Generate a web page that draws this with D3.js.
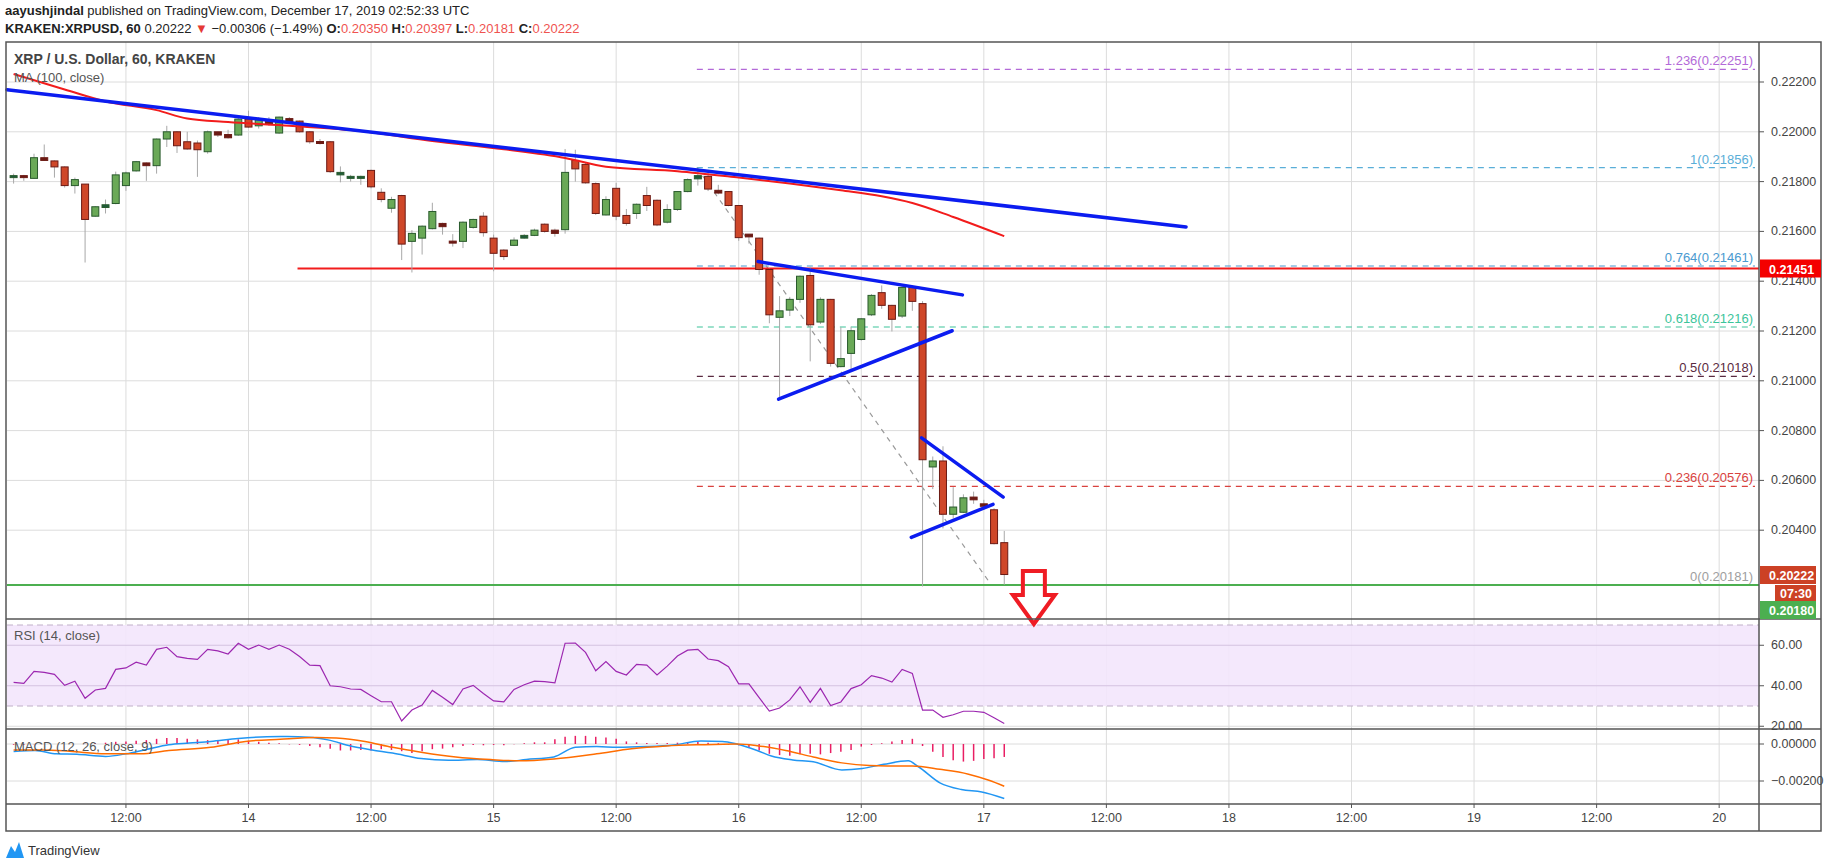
<!DOCTYPE html>
<html><head><meta charset="utf-8">
<script src="https://cdn.jsdelivr.net/npm/d3@7"></script>
<style>
body{margin:0;background:#fff;font-family:"Liberation Sans",Arial,sans-serif;}
svg text{font-family:"Liberation Sans",Arial,sans-serif;}
</style></head>
<body><svg id="chart" width="1828" height="868"></svg>
<script>
// hourly candles, 13 Dec 01:00 UTC .. 17 Dec 02:00 UTC
const opens  = [.21819,.21824,.21813,.21896,.21883,.21859,.21784,.21790,.21661,.21696,.21712,.21784,.21843,.21875,.21864,.21971,.22000,.21960,.21955,.21920,.22000,.21989,.21987,.22051,.22024,.22043,.21995,.22053,.22043,.22000,.21961,.21960,.21827,.21816,.21813,.21845,.21757,.21693,.21744,.21560,.21573,.21611,.21632,.21561,.21560,.21616,.21661,.21573,.21525,.21544,.21573,.21584,.21629,.21605,
  .21607,.21885,.21869,.21792,.21666,.21773,.21664,.21672,.21744,.21725,.21637,.21688,.21760,.21811,.21821,.21765,.21760,.21704,.21589,.21573,.21447,.21255,.21284,.21327,.21423,.21236,.21327,.21057,.21110,.21166,.21265,.21354,.21303,.21260,.21375,
  .21310,.20654,.20678,.20464,.20472,.20533,.20506,.20482,.20350];
const highs  = [.21832,.21827,.21912,.21949,.21885,.21861,.21816,.21790,.21701,.21728,.21840,.21840,.21883,.21877,.21973,.22024,.22003,.22000,.21965,.22005,.22000,.22008,.22064,.22085,.22059,.22059,.22061,.22059,.22045,.22003,.21971,.21963,.21861,.21827,.21824,.21848,.21773,.21739,.21747,.21605,.21624,.21715,.21635,.21589,.21640,.21651,.21677,.21587,.21528,.21576,.21589,.21611,.21632,.21611,
  .21931,.21928,.21877,.21797,.21741,.21795,.21690,.21712,.21779,.21728,.21709,.21762,.21813,.21856,.21843,.21787,.21762,.21706,.21589,.21575,.21450,.21340,.21337,.21423,.21458,.21335,.21329,.21215,.21217,.21252,.21348,.21383,.21305,.21383,.21383,
  .21320,.20696,.20737,.20573,.20544,.20555,.20522,.20488,.20397];
const lows   = [.21792,.21803,.21811,.21883,.21816,.21776,.21752,.21475,.21659,.21672,.21709,.21763,.21840,.21803,.21832,.21939,.21915,.21928,.21819,.21912,.21979,.21973,.21984,.22016,.22013,.22024,.21992,.22032,.21997,.21952,.21949,.21835,.21797,.21800,.21787,.21773,.21717,.21675,.21485,.21435,.21507,.21608,.21587,.21539,.21533,.21611,.21579,.21440,.21485,.21541,.21571,.21581,.21595,.21579,
  .21591,.21800,.21792,.21666,.21664,.21645,.21623,.21650,.21682,.21621,.21632,.21682,.21757,.21784,.21762,.21749,.21701,.21562,.21551,.21426,.21231,.20926,.21260,.21313,.21078,.21228,.21057,.21054,.21043,.21161,.21260,.21289,.21198,.21252,.21281,
  .20174,.20565,.20407,.20447,.20469,.20506,.20482,.20343,.20181];
const closes = [.21824,.21816,.21896,.21885,.21859,.21784,.21808,.21648,.21699,.21707,.21827,.21835,.21880,.21864,.21971,.22000,.21944,.21931,.21928,.22000,.21987,.21976,.22051,.22019,.22048,.22032,.22059,.22037,.22000,.21960,.21960,.21840,.21837,.21821,.21821,.21779,.21728,.21728,.21549,.21592,.21621,.21680,.21619,.21559,.21637,.21648,.21595,.21512,.21499,.21565,.21584,.21605,.21600,.21592,
  .21837,.21851,.21795,.21672,.21728,.21661,.21632,.21709,.21704,.21626,.21688,.21760,.21808,.21824,.21770,.21754,.21704,.21575,.21578,.21447,.21265,.21281,.21327,.21420,.21225,.21327,.21070,.21089,.21201,.21249,.21343,.21303,.21247,.21375,.21319,
  .20683,.20678,.20464,.20493,.20530,.20522,.20496,.20346,.20222];

// MA(100) read at candle positions
const maIdx = [0,5,9,14,17,21,27,34,41,48,54,58,65,71,76,81,85,88,92,97];
const maVal = [.22232,.22170,.22122,.22087,.22053,.22039,.22024,.22003,.21963,.21930,.21895,.21860,.21842,.21816,.21792,.21765,.21741,.21714,.21658,.21581];

// drawn lines: [idx0, price0, idx1, price1]
const blueLines = [[-0.65,.22169,114.8,.21618],[72.9,.21479,92.9,.21345],[74.9,.20926,91.9,.21201],[88.9,.20771,96.9,.20533],[87.9,.20371,95.9,.20504]];
const fibDiag = [66.9,.21856,95.7,.20182];
const fibLevels = ['1.236','1','0.764','0.618','0.5','0.236','0'];
const fibPrices = [.22251,.21856,.21461,.21216,.21018,.20576,.20181];
const fibColors = ['#b36ad8','#5aaed8','#4a9ad0','#3cc49a','#5a2a40','#d9423e','#9e9e9e'];
const supportPrice = .21451, supportStart = 27.8;
const lastLow = .20180;

const rsi = [41.7,41.2,47.1,46.6,45.6,40.2,42.2,33.8,37.9,38.7,48.1,48.8,51.6,50.2,58.0,59.0,54.4,53.5,53.0,58.0,
  57.2,55.7,61.0,58.0,60.1,58.0,60.1,58.0,54.4,50.2,49.9,40.0,39.5,38.4,38.2,35.1,32.1,32.1,22.6,28.0,
  30.5,37.7,34.3,30.7,38.4,40.2,36.2,32.5,32.0,38.2,40.5,42.3,42.0,41.4,61.0,61.1,56.5,47.4,51.9,47.1,
  45.3,50.6,50.2,45.3,49.7,54.7,57.6,58.0,53.2,52.4,49.4,40.9,40.9,34.1,27.5,29.0,33.0,39.5,31.8,38.7,
  30.2,32.0,38.6,40.5,45.0,43.8,41.8,48.1,46.1,28.0,28.0,24.4,25.7,27.4,27.4,26.9,24.2,21.4];

const macdIdx = [0,2.1,4.2,6.2,9,11,13.1,15.2,17.2,19.3,22,24.8,26.8,28.9,30.9,33,35.1,37.1,39.9,42.6,45.4,48.1,50.2,52.9,55,57.1,59.1,61.9,64.6,67.3,69.4,70.8,72.8,74.2,76.3,78.3,81.1,83.1,85.2,87.6,88.6,90.7,92.8,94.8,97];
const macdVal = [-.0004,-.00035,-.00053,-.00056,-.00067,-.00053,-.00028,-.00004,.00005,.00014,.0003,.00039,.0004,.00037,.00021,-.00011,-.00032,-.00049,-.00079,-.00088,-.00084,-.00095,-.00084,-.0007,-.00018,-.00014,-.00018,-.00014,-.00005,.00016,.00014,0,-.00035,-.00065,-.00086,-.00096,-.0014,-.00132,-.0011,-.00091,-.00123,-.0021,-.00246,-.0026,-.00295];
const sigIdx = [0,2.8,5.5,9,12.4,15.2,19.3,22.7,26.1,29.6,31.6,34.4,37.1,39.9,43.3,46.7,49.5,52.9,57.1,60.5,63.9,67.3,70.8,72.8,75.6,78.3,81.1,83.8,87.3,88,90.7,93.5,95.5,97];
const sigVal = [-.00032,-.00032,-.00039,-.00053,-.00053,-.00035,-.00018,.00014,.00026,.00035,.00032,.00014,-.00018,-.00044,-.0007,-.00084,-.00091,-.00081,-.00053,-.00026,-.00011,-.00004,0,-.00009,-.00035,-.0007,-.00102,-.00116,-.00119,-.00119,-.00137,-.00163,-.00196,-.00228];
const hist = [-.00004,-.00004,-.00002,0,0,0,0,.00002,.00004,.00007,.00012,.00014,.00018,.00021,.00028,.00033,.00033,.00028,.00025,.00021,
  .00018,.00021,.00025,.00018,.00012,.00007,.00004,-.00002,-.00005,-.00011,-.00018,-.00026,-.00035,-.00035,-.00032,-.00035,-.00028,-.00032,-.00039,-.00049,
  -.00039,-.00028,-.00025,-.00018,-.00011,-.00005,-.00007,-.00005,-.00007,-.00002,.00004,.00009,.00009,.00026,.00039,.00044,.00044,.00039,.00035,.00028,
  .00014,.00009,.00005,.00005,.00005,.00007,.00011,.00011,.00007,.00004,-.00004,-.00007,-.00018,-.00035,-.00053,-.0006,-.00063,-.00056,-.00053,-.00056,
  -.00049,-.00042,-.00032,-.00014,-.00005,.00004,.00014,.00021,.00028,-.00011,-.00042,-.0007,-.00088,-.00095,-.00091,-.00081,-.00077,-.0007];

const priceTicks = [.222,.220,.218,.216,.214,.212,.210,.208,.206,.204];
const rsiTicks = [60,40,20];
const macdTicks = [0,-.002];

const t0 = Date.UTC(2019,11,13,1);
const hour = 3600e3;
const L = 7, R = 1759, FR = 1821;
const paneT = 42, mainB = 619, rsiB = 729, macdB = 804, axB = 831;

const x = d3.scaleUtc().domain([new Date(t0), new Date(t0 + 170.9*hour)]).range([13.6, R]);
const xi = i => x(new Date(t0 + i*hour));
const y = d3.scaleLinear().domain([.222, .204]).range([82, 530.2]);
const yr = d3.scaleLinear().domain([70, 30]).range([625, 706]);
const ym = d3.scaleLinear().domain([0, -.002]).range([744, 781]);

const svg = d3.select('#chart');

// header
svg.append('text').attr('x',5).attr('y',15).style('font-size','13px').attr('fill','#222')
  .call(t=>{ t.append('tspan').style('font-weight','bold').text('aayushjindal');
             t.append('tspan').text(' published on TradingView.com, December 17, 2019 02:52:33 UTC'); });
svg.append('text').attr('x',5).attr('y',33).style('font-size','13px').attr('fill','#222')
  .call(t=>{ t.append('tspan').style('font-weight','bold').text('KRAKEN:XRPUSD, 60');
             t.append('tspan').text('  0.20222 ');
             t.append('tspan').attr('fill','#e53935').text('▼');
             t.append('tspan').text(' −0.00306 (−1.49%) ');
             [['O:','0.20350'],['H:','0.20397'],['L:','0.20181'],['C:','0.20222']].forEach(([k,v])=>{
               t.append('tspan').style('font-weight','bold').text(k);
               t.append('tspan').attr('fill','#ef5350').text(v+' ');
             }); });

// pane backgrounds and grid
const grid = svg.append('g').attr('stroke','#dcdcdc').attr('stroke-width',1);
x.ticks(d3.utcHour.every(12)).forEach(d=>{
  grid.append('line').attr('x1',x(d)).attr('x2',x(d)).attr('y1',paneT).attr('y2',macdB);
});
priceTicks.forEach(p=>grid.append('line').attr('x1',L).attr('x2',R).attr('y1',y(p)).attr('y2',y(p)));

svg.append('rect').attr('x',L).attr('width',R-L).attr('y',yr(70)).attr('height',yr(30)-yr(70)).attr('fill','#f3e6fc').attr('opacity',0.9);
rsiTicks.forEach(v=>svg.append('line').attr('x1',L).attr('x2',R).attr('y1',yr(v)).attr('y2',yr(v)).attr('stroke', v===20?'#dcdcdc':'#d4c2e0'));
[70,30].forEach(v=>svg.append('line').attr('x1',L).attr('x2',R).attr('y1',yr(v)).attr('y2',yr(v)).attr('stroke','#c0b0c8').attr('stroke-dasharray','6,4'));
macdTicks.forEach(v=>svg.append('line').attr('x1',L).attr('x2',R).attr('y1',ym(v)).attr('y2',ym(v)).attr('stroke','#dcdcdc'));

// fib levels
const fx0 = xi(fibDiag[0]);
fibPrices.forEach((p,k)=>{
  svg.append('line').attr('x1',fx0).attr('x2',R-4).attr('y1',y(p)).attr('y2',y(p))
    .attr('stroke',fibColors[k]).attr('stroke-width',1.2).attr('stroke-dasharray','6,5');
  svg.append('text').attr('x',R-6).attr('y',y(p)-4).attr('text-anchor','end').attr('fill',fibColors[k])
    .style('font-size','13px').text(fibLevels[k]+'('+p.toFixed(5)+')');
});
svg.append('line').attr('x1',xi(fibDiag[0])).attr('y1',y(fibDiag[1])).attr('x2',xi(fibDiag[2])).attr('y2',y(fibDiag[3]))
  .attr('stroke','#999').attr('stroke-width',1.2).attr('stroke-dasharray','5,5');

// support and low lines
svg.append('line').attr('x1',xi(supportStart)).attr('x2',R).attr('y1',y(supportPrice)).attr('y2',y(supportPrice)).attr('stroke','#f21c1c').attr('stroke-width',2);
svg.append('line').attr('x1',L).attr('x2',R).attr('y1',y(lastLow)).attr('y2',y(lastLow)).attr('stroke','#4caf50').attr('stroke-width',2);

// candles
const candles = svg.append('g');
opens.forEach((o,i)=>{
  const c = closes[i], up = c >= o, cx = xi(i);
  const small = Math.abs(y(o)-y(c)) < 4;
  candles.append('line').attr('x1',cx).attr('x2',cx).attr('y1',y(highs[i])).attr('y2',y(lows[i])).attr('stroke','#a8a8a8');
  candles.append('rect').attr('x',cx-3.5).attr('width',7)
    .attr('y',y(Math.max(o,c))).attr('height',Math.max(2,Math.abs(y(o)-y(c))))
    .attr('fill', small ? (up?'#1e5c3a':'#6b1a14') : (up?'#6aa957':'#cf4729'))
    .attr('stroke', up?'#295a2c':'#6b1a14').attr('stroke-width',1);
});

// MA
svg.append('path').attr('fill','none').attr('stroke','#f21c1c').attr('stroke-width',2)
  .attr('d', d3.line().curve(d3.curveMonotoneX).x(d=>xi(d)).y((d,k)=>y(maVal[k]))(maIdx));

// trend lines
blueLines.forEach(b=>svg.append('line').attr('x1',xi(b[0])).attr('y1',y(b[1])).attr('x2',xi(b[2])).attr('y2',y(b[3]))
  .attr('stroke','#0b1cf0').attr('stroke-width',3.5).attr('stroke-linecap','round'));

// arrow
const ax = xi(99.9), aTop = y(.20236), aMid = y(.20140), aTip = aTop + 53;
svg.append('path').attr('fill','none').attr('stroke','#ef1c24').attr('stroke-width',4).attr('stroke-linejoin','miter')
  .attr('d',`M${ax-11},${aTop}H${ax+11}V${aMid}H${ax+21}L${ax},${aTip}L${ax-21},${aMid}H${ax-11}Z`);

// RSI
svg.append('path').attr('fill','none').attr('stroke','#9c27b0').attr('stroke-width',1.2)
  .attr('d', d3.line().x((d,i)=>xi(i)).y(d=>yr(d))(rsi));

// MACD
svg.append('g').selectAll('line').data(hist).join('line')
  .attr('x1',(d,i)=>xi(i)).attr('x2',(d,i)=>xi(i)).attr('y1',ym(0)).attr('y2',d=>ym(d))
  .attr('stroke','#e91e63').attr('stroke-width',1.5);
svg.append('path').attr('fill','none').attr('stroke','#2196f3').attr('stroke-width',1.5)
  .attr('d', d3.line().curve(d3.curveMonotoneX).x(d=>xi(d)).y((d,k)=>ym(macdVal[k]))(macdIdx));
svg.append('path').attr('fill','none').attr('stroke','#ff6d00').attr('stroke-width',1.5)
  .attr('d', d3.line().curve(d3.curveMonotoneX).x(d=>xi(d)).y((d,k)=>ym(sigVal[k]))(sigIdx));

// pane labels
svg.append('text').attr('x',14).attr('y',64).style('font-size','14px').style('font-weight','bold').attr('fill','#444').text('XRP / U.S. Dollar, 60, KRAKEN');
svg.append('text').attr('x',14).attr('y',82).style('font-size','13px').attr('fill','#555').text('MA (100, close)');
svg.append('text').attr('x',14).attr('y',640).style('font-size','13px').attr('fill','#555').text('RSI (14, close)');
svg.append('text').attr('x',14).attr('y',751).style('font-size','13px').attr('fill','#555').text('MACD (12, 26, close, 9)');

// frame
const frame = svg.append('g').attr('stroke','#555').attr('fill','none').attr('stroke-width',1.5);
frame.append('rect').attr('x',L-1).attr('y',paneT).attr('width',FR-L+1).attr('height',axB-paneT);
[mainB,rsiB,macdB].forEach(v=>frame.append('line').attr('x1',L-1).attr('x2',FR).attr('y1',v).attr('y2',v));
frame.append('line').attr('x1',R).attr('x2',R).attr('y1',paneT).attr('y2',axB);

// price axis
const axT = svg.append('g').style('font-size','12.5px').attr('fill','#444');
priceTicks.forEach(p=>{
  axT.append('line').attr('x1',R).attr('x2',R+5).attr('y1',y(p)).attr('y2',y(p)).attr('stroke','#555');
  axT.append('text').attr('x',R+12).attr('y',y(p)+4).text(p.toFixed(5));
});
rsiTicks.forEach(v=>{
  axT.append('line').attr('x1',R).attr('x2',R+5).attr('y1',yr(v)).attr('y2',yr(v)).attr('stroke','#555');
  axT.append('text').attr('x',R+12).attr('y',yr(v)+4).text(v.toFixed(2));
});
macdTicks.forEach(v=>{
  axT.append('line').attr('x1',R).attr('x2',R+5).attr('y1',ym(v)).attr('y2',ym(v)).attr('stroke','#555');
  axT.append('text').attr('x',R+12).attr('y',ym(v)+4).text((v<0?'−':'')+Math.abs(v).toFixed(5));
});
x.ticks(d3.utcHour.every(12)).forEach(d=>{
  axT.append('line').attr('x1',x(d)).attr('x2',x(d)).attr('y1',macdB).attr('y2',macdB+4).attr('stroke','#555');
  axT.append('text').attr('x',x(d)).attr('y',macdB+18).attr('text-anchor','middle')
    .text(d.getUTCHours()===12 ? '12:00' : d.getUTCDate());
});

// price tags
function tag(yy, txt, col, w){
  svg.append('rect').attr('x',R+1).attr('y',yy-9).attr('width',w||56).attr('height',18).attr('fill',col);
  svg.append('text').attr('x',R+10).attr('y',yy+5).attr('fill','#fff').style('font-size','12.5px').style('font-weight','bold').text(txt);
}
tag(y(supportPrice), supportPrice.toFixed(5), '#f40000', 61);
tag(575, closes[closes.length-1].toFixed(5), '#cc4125', 56);
svg.append('rect').attr('x',R+16).attr('y',585).attr('width',41).attr('height',17).attr('fill','#cc4125');
svg.append('text').attr('x',R+21).attr('y',598).attr('fill','#fff').style('font-size','12.5px').style('font-weight','bold').text('07:30');
tag(610, lastLow.toFixed(5), '#4caf50', 56);

// logo
const lg = svg.append('g').attr('transform','translate(6,840)');
lg.append('path').attr('d','M0,18 L5,6 L9,12 L13,2 L18,18 Z').attr('fill','#2196f3');
lg.append('text').attr('x',22).attr('y',15).style('font-size','13px').attr('fill','#333').text('TradingView');
</script></body></html>
